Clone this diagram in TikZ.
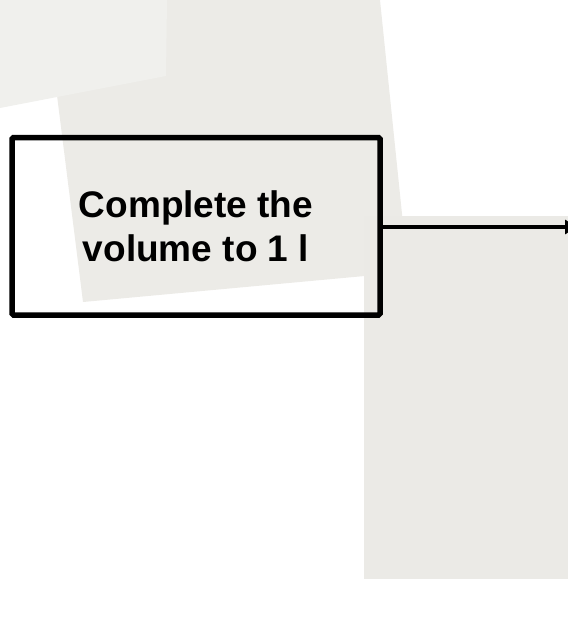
\documentclass[tikz,border=0pt]{standalone}
\usepackage{fontspec}
\setmainfont{Liberation Sans}
\usetikzlibrary{arrows.meta}
\definecolor{paperA}{HTML}{F0F0ED}
\definecolor{paperB}{HTML}{ECEBE7}
\definecolor{paperC}{HTML}{EBEAE6}
\tikzset{
  stepbox/.style={draw=black, line width=5.5pt, rounded corners=1.5pt, minimum width=368pt, minimum height=177.5pt, inner sep=0pt, align=center, font=\fontsize{37}{44}\selectfont\bfseries},
  flowarrow/.style={draw=black, line width=4pt, -{Triangle[length=12pt,width=14pt]}},
}
\begin{document}
\begin{tikzpicture}[x=1pt,y=-1pt]
\useasboundingbox (0,0) rectangle (568,625);
% background papers
\fill[paperB] (45,0) -- (380,0) -- (408,272) -- (83,302) -- cycle;
\fill[paperC] (364,216) rectangle (568,579);
\fill[paperA] (0,0) -- (167,0) -- (166,76) -- (0,108) -- cycle;
% box and arrow
\node[stepbox] (box) at (196,226.25) {Complete the\\volume to 1 l};
\coordinate (end) at (577,227);
\draw[flowarrow] (box.east |- end) -- (end);
\end{tikzpicture}
\end{document}
